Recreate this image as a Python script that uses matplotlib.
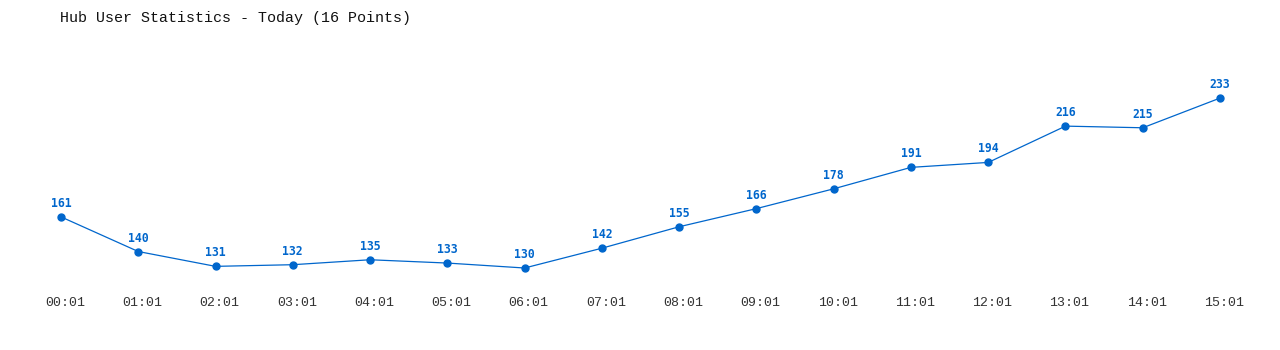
import matplotlib
matplotlib.use("Agg")
import matplotlib.pyplot as plt
import matplotlib.transforms as mtransforms

times = ["00:01", "01:01", "02:01", "03:01", "04:01", "05:01", "06:01", "07:01",
         "08:01", "09:01", "10:01", "11:01", "12:01", "13:01", "14:01", "15:01"]
users = [161, 140, 131, 132, 135, 133, 130, 142, 155, 166, 178, 191, 194, 216, 215, 233]

blue = "#0066cc"
mono = ["DejaVu Sans Mono", "Liberation Mono"]

fig = plt.figure(figsize=(12.8, 3.5), dpi=100)
ax = fig.add_axes([0, 1 - 285 / 350, 1, 245 / 350])

x = list(range(len(users)))
ax.plot(x, users, color=blue, lw=0.9, marker="o", markersize=5, zorder=3)
for xi, v in zip(x, users):
    ax.annotate(str(v), xy=(xi, v), xytext=(0, 5), textcoords="offset points",
                ha="center", va="bottom", color=blue, fontsize=8.3,
                fontweight="bold", family=mono)

ax.set_xlim(-0.789, 15.776)
ax.set_ylim(119.7, 268.2)
ax.set_xticks(x)
ax.set_xticklabels(times, family=["Liberation Mono", "DejaVu Sans Mono"],
                   fontsize=9.5, color="#333333")
ax.tick_params(axis="x", length=0, pad=9)
# labels sit a few pixels right of the points
shift = mtransforms.ScaledTranslation(4 / 100, 0, fig.dpi_scale_trans)
for lab in ax.get_xticklabels():
    lab.set_transform(lab.get_transform() + shift)
ax.set_yticks([])
for s in ax.spines.values():
    s.set_visible(False)

fig.text(60 / 1280, 1 - 18 / 350, "Hub User Statistics - Today (16 Points)",
         family=["Liberation Mono", "DejaVu Sans Mono"], fontsize=10.8,
         color="#111111", va="center", ha="left")

fig.savefig("out.png", dpi=100, facecolor="white")
